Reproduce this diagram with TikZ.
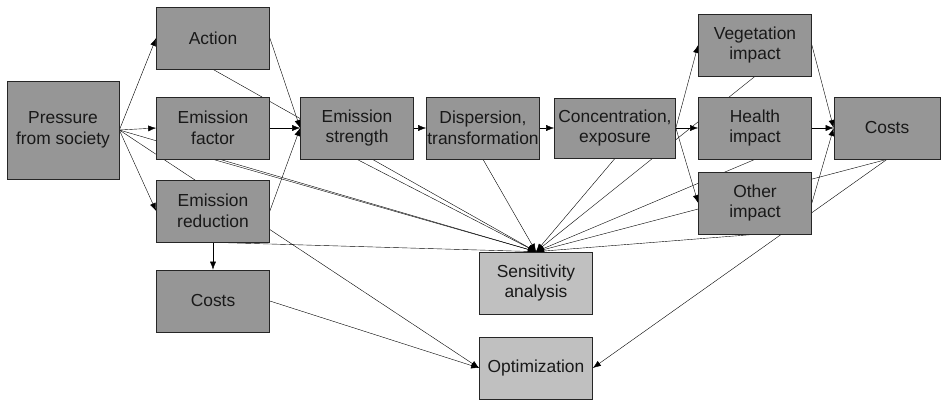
\documentclass[tikz,border=0pt]{standalone}
\usepackage{fontspec}
\setmainfont{Liberation Sans}
\usepackage{xcolor}
\usepackage{tikz}
\usetikzlibrary{positioning, arrows.meta, backgrounds}

\definecolor{boxgray}{RGB}{150,150,150}
\definecolor{boxlight}{RGB}{192,192,192}
\definecolor{txt}{RGB}{25,25,25}

\begin{document}
\begin{tikzpicture}[on grid, node distance=140pt,
        >={Latex[length=8pt,width=6pt]}, line width=0.8pt,
        box/.style={draw=black!85, line width=0.7pt, fill=boxgray, text=txt,
            minimum width=113pt, minimum height=62pt, inner sep=0pt,
            align=center, font=\fontsize{17.4}{20.5}\selectfont},
        lightbox/.style={box, fill=boxlight}]
        \useasboundingbox (0,0) rectangle (942pt,-400pt);

        \node[box, minimum width=112pt, minimum height=98pt] (pressure) at (63pt,-130pt) {Pressure\\from society};
        \node[box] (factor) [right=150pt of pressure, yshift=2pt] {Emission\\factor};
        \node[box] (action) [above=90pt of factor] {Action};
        \node[box] (reduction) [below=83pt of factor] {Emission\\reduction};
        \node[box] (costsL) [below=90pt of reduction] {Costs};
        \node[box] (strength) [right=144pt of factor] {Emission\\strength};
        \node[box] (dispersion) [right=126pt of strength] {Dispersion,\\transformation};
        \node[box, minimum width=121pt, minimum height=60pt] (concentration) [right=132pt of dispersion] {Concentration,\\exposure};
        \node[box] (health) [right=140pt of concentration] {Health\\impact};
        \node[box] (vegetation) [above=83pt of health] {Vegetation\\impact};
        \node[box] (other) [below=75pt of health] {Other\\impact};
        \node[box, minimum width=106pt] (costsR) [right=132pt of health] {Costs};
        \node[lightbox] (sens) [below right=155pt and 53pt of dispersion] {Sensitivity\\analysis};
        \node[lightbox] (optim) [below=85pt of sens] {Optimization};

        \begin{scope}[on background layer]
        \path[->]
        (pressure.east) edge (action.west)
        (pressure.east) edge (factor.west)
        (pressure.east) edge (reduction.west)
        (pressure.east) edge (sens.north)
        (pressure.east) edge (optim.west)

        (action.east) edge (strength.west)
        (action.south) edge (sens.north)
        (factor.east) edge (strength.west)
        (factor.south) edge (sens.north)
        (reduction.east) edge (strength.west)
        (reduction.south) edge (costsL.north)
        (reduction.south) edge (sens.north)
        (costsL.east) edge (optim.west)

        (strength.east) edge (dispersion.west)
        (strength.south) edge (sens.north)
        (dispersion.east) edge (concentration.west)
        (dispersion.south) edge (sens.north)

        (concentration.east) edge (vegetation.west)
        (concentration.east) edge (health.west)
        (concentration.east) edge (other.west)
        (concentration.south) edge (sens.north)

        (vegetation.east) edge (costsR.west)
        (vegetation.south) edge (sens.north)
        (health.east) edge (costsR.west)
        (health.south) edge (sens.north)
        (other.east) edge (costsR.west)
        (other.south) edge (sens.north)

        (costsR.south) edge (sens.north)
        (costsR.south) edge (optim.east);
        \end{scope}
\end{tikzpicture}
\end{document}
